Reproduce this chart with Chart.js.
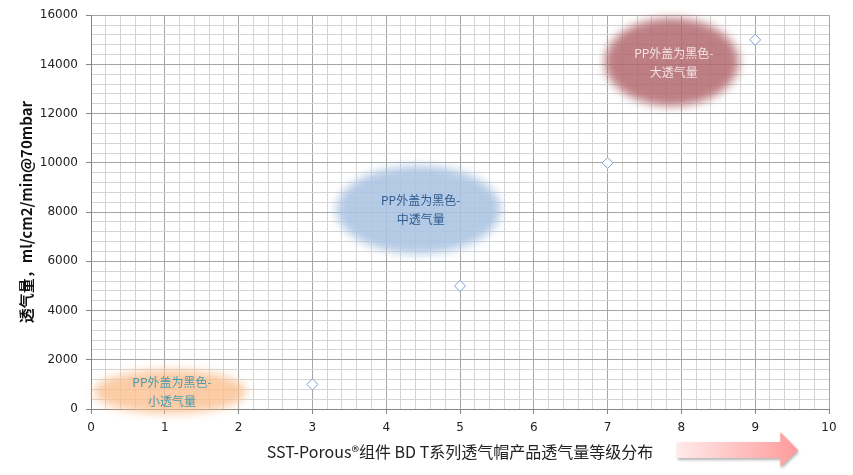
<!DOCTYPE html>
<html>
<head>
<meta charset="utf-8">
<script src="https://cdn.jsdelivr.net/npm/chart.js@4"></script>
<style>
  html, body { margin: 0; padding: 0; background: #fff; }
  #wrap { width: 853px; height: 475px; }
</style>
</head>
<body>
<div id="wrap"><canvas id="chart"></canvas></div>
<script>
// data
const gradeX = [3, 5, 7, 9];
const flowY = [1000, 5000, 10000, 15000];
const xTicks = [0, 1, 2, 3, 4, 5, 6, 7, 8, 9, 10];
const yTicks = [0, 2000, 4000, 6000, 8000, 10000, 12000, 14000, 16000];

// the three soft bubbles (centre in data units, radii in pixels)
const bubbleX = [1.07, 4.44, 7.87];
const bubbleY = [700, 8100, 14100];
const bubbleText = [
  ["PP外盖为黑色-", "小透气量"],
  ["PP外盖为黑色-", "中透气量"],
  ["PP外盖为黑色-", "大透气量"],
];
const bubbleStyle = [
  { rx: 76, ry: 22, fill: "rgba(250,190,140,0.78)", text: "#4a9bb0" },
  { rx: 82, ry: 44, fill: "rgba(170,195,225,0.88)", text: "#2f5c8f" },
  { rx: 67, ry: 44, fill: "rgba(176,102,108,0.84)", text: "#f6e2e2" },
];

const near = (a, b) => Math.abs(a - b) < 1e-6;
const isWhole = (v, step) => near(v / step, Math.round(v / step));

const bubbles = {
  id: "bubbles",
  beforeDatasetsDraw(chart) {
    const { ctx, scales: { x, y } } = chart;
    bubbleX.forEach((bx, i) => {
      const cx = x.getPixelForValue(bx);
      const cy = y.getPixelForValue(bubbleY[i]);
      const s = bubbleStyle[i];
      ctx.save();
      ctx.filter = "blur(5px)";
      ctx.fillStyle = s.fill;
      ctx.beginPath();
      ctx.ellipse(cx, cy, s.rx, s.ry, 0, 0, Math.PI * 2);
      ctx.fill();
      ctx.filter = "none";
      ctx.fillStyle = s.text;
      ctx.font = '12px "Noto Sans CJK SC", "DejaVu Sans", sans-serif';
      ctx.textAlign = "center";
      ctx.textBaseline = "middle";
      ctx.fillText(bubbleText[i][0], cx + 2, cy - 9);
      ctx.fillText(bubbleText[i][1], cx + 2, cy + 10);
      ctx.restore();
    });
  },
  afterDraw(chart) {
    // pink arrow under the x axis, pointing right
    const { ctx, scales: { x } } = chart;
    const x0 = x.getPixelForValue(7.94);
    const x1 = x.getPixelForValue(9.34);
    const x2 = x.getPixelForValue(9.58);
    const yc = 450;
    ctx.save();
    const g = ctx.createLinearGradient(x0, 0, x2, 0);
    g.addColorStop(0, "#ffeaea");
    g.addColorStop(1, "#ff9a9a");
    ctx.shadowColor = "rgba(0,0,0,0.3)";
    ctx.shadowBlur = 3;
    ctx.shadowOffsetX = 1;
    ctx.shadowOffsetY = 2;
    ctx.fillStyle = g;
    ctx.beginPath();
    ctx.moveTo(x0, yc - 8);
    ctx.lineTo(x1, yc - 8);
    ctx.lineTo(x1, yc - 18);
    ctx.lineTo(x2, yc);
    ctx.lineTo(x1, yc + 17);
    ctx.lineTo(x1, yc + 8);
    ctx.lineTo(x0, yc + 8);
    ctx.closePath();
    ctx.fill();
    ctx.restore();
  },
};

new Chart(document.getElementById("chart"), {
  type: "scatter",
  data: {
    datasets: [
      {
        data: gradeX.map((v, i) => ({ x: v, y: flowY[i] })),
        pointStyle: "rectRot",
        pointRadius: 5.5,
        pointBackgroundColor: "#fff",
        pointBorderColor: "#7f9fd4",
        pointBorderWidth: 1,
      },
    ],
  },
  options: {
    responsive: true,
    maintainAspectRatio: false,
    animation: false,
    layout: { padding: { top: 15, right: 24, left: 0, bottom: 0 } },
    plugins: {
      legend: { display: false },
      tooltip: { enabled: false },
    },
    scales: {
      x: {
        type: "linear",
        min: xTicks[0],
        max: xTicks[xTicks.length - 1],
        afterFit(scale) { scale.height = 66; },
        ticks: {
          stepSize: 0.2,
          maxTicksLimit: 200,
          autoSkip: false,
          maxRotation: 0,
          padding: 7,
          color: "#222",
          font: { family: '"DejaVu Sans", sans-serif', size: 12 },
          callback: (v) => (xTicks.some((t) => near(v, t)) ? String(Math.round(v)) : ""),
        },
        grid: {
          color: (c) => (isWhole(c.tick.value, 1) ? "#a6a6a6" : "#d4d4d4"),
          tickColor: (c) => (isWhole(c.tick.value, 1) ? "#868686" : "rgba(0,0,0,0)"),
          tickLength: 5,
        },
        border: { color: "#868686" },
        title: {
          display: true,
          text: "SST-Porous®组件 BD T系列透气帽产品透气量等级分布",
          color: "#222",
          font: { family: '"Noto Sans CJK SC", "DejaVu Sans", sans-serif', size: 16 },
          padding: { top: 0, bottom: 13 },
        },
      },
      y: {
        type: "linear",
        min: yTicks[0],
        max: yTicks[yTicks.length - 1],
        afterFit(scale) { scale.width = 91; },
        ticks: {
          stepSize: 400,
          maxTicksLimit: 200,
          autoSkip: false,
          padding: 8,
          color: "#222",
          font: { family: '"DejaVu Sans", sans-serif', size: 12 },
          callback: (v) => (yTicks.some((t) => near(v, t)) ? String(Math.round(v)) : ""),
        },
        grid: {
          color: (c) => (isWhole(c.tick.value, 2000) ? "#a6a6a6" : "#d4d4d4"),
          tickColor: (c) => (isWhole(c.tick.value, 2000) ? "#868686" : "rgba(0,0,0,0)"),
          tickLength: 5,
        },
        border: { color: "#868686" },
        title: {
          display: true,
          text: "透气量，ml/cm2/min@70mbar",
          color: "#111",
          font: { family: '"Noto Sans CJK SC", "DejaVu Sans", sans-serif', size: 15, weight: "bold" },
          padding: { top: 17, bottom: 0 },
        },
      },
    },
  },
  plugins: [bubbles],
});
</script>
</body>
</html>
